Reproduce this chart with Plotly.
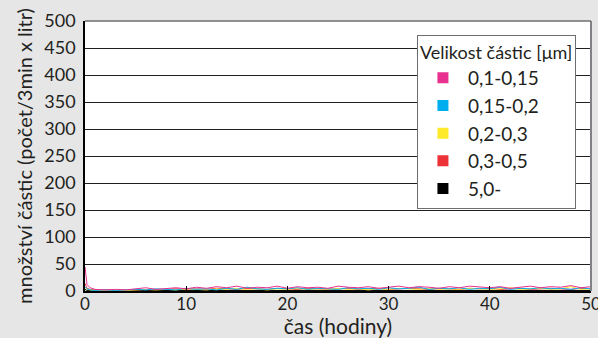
import plotly.graph_objects as go

hours = [0, 0.2, 0.5, 1, 2, 3, 4, 5, 6, 7, 8, 9, 10, 11, 12, 13, 14, 15, 16, 17, 18,
         19, 20, 21, 22, 23, 24, 25, 26, 27, 28, 29, 30, 31, 32, 33, 34, 35, 36, 37,
         38, 39, 40, 41, 42, 43, 44, 45, 46, 47, 48, 49, 50]

pink = [45, 12, 6, 3, 2, 3, 2, 4, 6, 3, 5, 6, 4, 7, 5, 8, 6, 9, 5, 7, 6, 9, 5, 8, 6, 7,
        5, 9, 7, 6, 8, 5, 7, 9, 6, 8, 7, 5, 8, 6, 9, 7, 6, 8, 5, 7, 9, 6, 8, 7, 10, 6, 8]
cyan = [8, 4, 2, 1, 2, 1, 2, 3, 2, 4, 3, 2, 5, 3, 4, 2, 5, 3, 7, 4, 3, 5, 4, 6, 3, 5,
        4, 3, 6, 4, 5, 3, 6, 4, 5, 7, 3, 5, 4, 6, 3, 5, 4, 7, 3, 5, 4, 6, 4, 5, 3, 6, 4]
yellow = [6, 3, 2, 1, 1, 2, 1, 2, 3, 2, 3, 2, 4, 3, 2, 4, 3, 5, 3, 4, 2, 4, 3, 5, 3, 4,
          3, 5, 3, 4, 2, 4, 3, 5, 4, 3, 5, 3, 4, 3, 5, 4, 3, 4, 6, 3, 4, 5, 3, 4, 8, 3, 4]
red = [14, 5, 3, 2, 2, 1, 2, 2, 3, 2, 3, 4, 3, 4, 3, 5, 4, 3, 5, 4, 3, 5, 4, 3, 5, 4,
       3, 4, 5, 3, 4, 5, 3, 4, 5, 4, 3, 5, 4, 3, 5, 4, 5, 3, 4, 5, 3, 4, 5, 4, 3, 5, 4]
black = [3, 1, 1, 0, 1, 0, 1, 1, 0, 1, 1, 0, 1, 1, 0, 1, 1, 0, 1, 1, 0, 1, 1, 0, 1, 1,
         0, 1, 1, 0, 1, 1, 0, 1, 1, 0, 1, 1, 0, 1, 1, 0, 1, 1, 0, 1, 1, 0, 1, 1, 0, 1, 1]

labels = ["0,1-0,15", "0,15-0,2", "0,2-0,3", "0,3-0,5", "5,0-"]
colors = ["#e8308f", "#00aeef", "#ffe92b", "#ed3237", "#000000"]
series = [pink, cyan, yellow, red, black]

x_ticks = [0, 10, 20, 30, 40, 50]
y_ticks = [0, 50, 100, 150, 200, 250, 300, 350, 400, 450, 500]

FONT = "Lato"
TXT = "#231f20"

fig = go.Figure()

# draw black first, pink last (on top)
for lab, col, vals in reversed(list(zip(labels, colors, series))):
    fig.add_trace(go.Scatter(x=hours, y=vals, mode="lines",
                             line=dict(color=col, width=1),
                             showlegend=False, hoverinfo="skip"))

# legend entries in legend order
for lab, col in zip(labels, colors):
    fig.add_trace(go.Scatter(x=[None], y=[None], mode="markers", name=lab,
                             marker=dict(symbol="square", size=11, color=col)))

fig.update_layout(
    width=598, height=338,
    margin=dict(l=85, r=7, t=21, b=47),
    paper_bgcolor="#e6e6e6",
    plot_bgcolor="#ffffff",
    font=dict(family=FONT, size=16, color=TXT),
    showlegend=True,
    legend=dict(
        x=0.656, y=0.95, xanchor="left", yanchor="top",
        bgcolor="#ffffff", bordercolor="#6d6e71", borderwidth=1,
        traceorder="normal",
        title=dict(text="Velikost částic [μm]", font=dict(size=18, family=FONT, color=TXT)),
        font=dict(size=19, family=FONT, color=TXT),
        itemwidth=40,
    ),
    xaxis=dict(
        range=[0, 50], tickvals=x_ticks, ticktext=[str(v) for v in x_ticks],
        showgrid=False, zeroline=False, automargin=False,
        ticklabeloverflow="allow", ticklabelstandoff=-3,
        showline=True, linecolor="#000000", linewidth=1.5,
        ticks="inside", ticklen=5, tickcolor="#000000", tickwidth=1,
        tickfont=dict(size=17, family=FONT, color=TXT),
        title=dict(text="čas (hodiny)", font=dict(size=21, family=FONT, color=TXT), standoff=0),
    ),
    yaxis=dict(
        range=[0, 500], tickvals=y_ticks, ticktext=[str(v) for v in y_ticks],
        showgrid=True, gridcolor="#231f20", gridwidth=1,
        zeroline=False, automargin=False,
        showline=True, linecolor="#000000", linewidth=1.5,
        ticks="", ticklabelstandoff=4,
        tickfont=dict(size=18, family=FONT, color=TXT),
        title=dict(text="množství částic (počet/3min x litr)",
                   font=dict(size=20, family=FONT, color=TXT), standoff=6),
    ),
)

# gray top/right frame
fig.add_shape(type="line", xref="paper", yref="paper", x0=1, x1=1, y0=0, y1=1,
              line=dict(color="#808285", width=2))
fig.add_shape(type="line", xref="paper", yref="paper", x0=0, x1=1, y0=1, y1=1,
              line=dict(color="#6d6e71", width=1.5))

fig.write_html("out.html", config={"displayModeBar": False},
               post_script="document.body.style.margin='0';document.body.style.overflow='hidden';")
